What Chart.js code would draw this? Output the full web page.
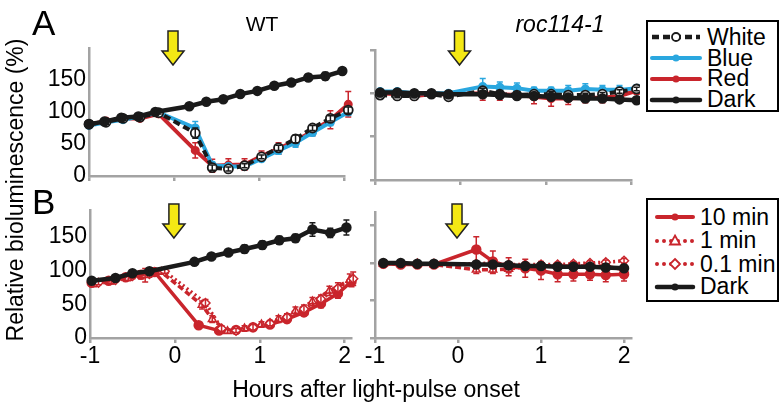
<!DOCTYPE html>
<html>
<head>
<meta charset="utf-8">
<script src="https://cdn.jsdelivr.net/npm/chart.js@4.4.1/dist/chart.umd.min.js"></script>
<style>
  body { margin: 0; width: 780px; height: 406px; background: #fff; position: relative; overflow: hidden;
         font-family: 'Liberation Sans', Arial, sans-serif; color: #000; }
  canvas { position: absolute; }
  .txt { position: absolute; white-space: nowrap; line-height: 1; }
</style>
</head>
<body>
<canvas id="aWT" width="330" height="170" style="left:30px;top:20px"></canvas>
<canvas id="aRoc" width="280" height="170" style="left:360px;top:20px"></canvas>
<canvas id="bWT" width="330" height="185" style="left:30px;top:195px"></canvas>
<canvas id="bRoc" width="280" height="185" style="left:360px;top:195px"></canvas>

<div class="txt" style="left:32px;top:5px;font-size:35px">A</div>
<div class="txt" style="left:32px;top:184px;font-size:35px">B</div>
<div class="txt" style="left:262px;top:13px;font-size:21px;transform:translateX(-50%)">WT</div>
<div class="txt" style="left:560px;top:13px;font-size:23px;font-style:italic;transform:translateX(-50%)">roc114-1</div>
<div class="txt" style="left:15px;top:190px;font-size:23px;transform:translate(-50%,-50%) rotate(-90deg)">Relative bioluminescence (%)</div>
<div class="txt" style="left:376px;top:378px;font-size:23px;transform:translateX(-50%)">Hours after light-pulse onset</div>

<svg style="position:absolute;left:646px;top:20px" width="134" height="94" font-family="Liberation Sans, Arial, sans-serif" font-size="23">
  <rect x="1" y="1" width="131" height="90" fill="#fff" stroke="#000" stroke-width="2"/>
  <line x1="6" y1="17" x2="54" y2="17" stroke="#1a1a1a" stroke-width="4.5" stroke-dasharray="7 4"/>
  <circle cx="30" cy="17" r="4" fill="#fff" stroke="#1a1a1a" stroke-width="1.8"/>
  <text x="61" y="25">White</text>
  <line x1="6" y1="38" x2="54" y2="38" stroke="#2aa7df" stroke-width="4" stroke-linecap="round"/>
  <circle cx="30" cy="38" r="3.5" fill="#2aa7df"/>
  <text x="61" y="46">Blue</text>
  <line x1="6" y1="59" x2="54" y2="59" stroke="#c9252c" stroke-width="4" stroke-linecap="round"/>
  <circle cx="30" cy="59" r="3.5" fill="#c9252c"/>
  <text x="61" y="66">Red</text>
  <line x1="6" y1="80" x2="54" y2="80" stroke="#1a1a1a" stroke-width="4.5" stroke-linecap="round"/>
  <circle cx="30" cy="80" r="3.5" fill="#1a1a1a"/>
  <text x="61" y="87">Dark</text>
</svg>

<svg style="position:absolute;left:646px;top:198px" width="134" height="106" font-family="Liberation Sans, Arial, sans-serif" font-size="23">
  <rect x="1" y="1" width="131" height="102" fill="#fff" stroke="#000" stroke-width="2"/>
  <line x1="11" y1="19" x2="47" y2="19" stroke="#c9252c" stroke-width="4" stroke-linecap="round"/>
  <circle cx="29" cy="19" r="3.5" fill="#c9252c"/>
  <text x="54" y="27">10 min</text>
  <line x1="11" y1="43" x2="47" y2="43" stroke="#c9252c" stroke-width="4" stroke-linecap="round" stroke-dasharray="0 7"/>
  <polygon points="29,37.5 34,46.5 24,46.5" fill="#fff" stroke="#c9252c" stroke-width="1.8"/>
  <text x="54" y="50">1 min</text>
  <line x1="11" y1="66" x2="47" y2="66" stroke="#c9252c" stroke-width="4" stroke-linecap="round" stroke-dasharray="0 7"/>
  <polygon points="29,61 34,66 29,71 24,66" fill="#fff" stroke="#c9252c" stroke-width="1.8"/>
  <text x="54" y="74">0.1 min</text>
  <line x1="11" y1="89" x2="47" y2="89" stroke="#1a1a1a" stroke-width="4.5" stroke-linecap="round"/>
  <circle cx="29" cy="89" r="3.5" fill="#1a1a1a"/>
  <text x="54" y="96">Dark</text>
</svg>

<script>
const family = "'Liberation Sans', Arial, sans-serif";
const axisColor = '#a3a3a3';
const black = '#1a1a1a', blue = '#2aa7df', red = '#c9252c';
const xTicks = [-1, 0, 1, 2];
const yTicks = [0, 50, 100, 150];

// A, WT
const darkHoursA = [-1, -0.82, -0.62, -0.42, -0.22, 0.18, 0.38, 0.58, 0.78, 0.98, 1.18, 1.38, 1.58, 1.78, 1.98];
const darkWT_A = [81, 85, 91, 93, 100, 109, 116, 120, 128, 133, 141, 146, 154, 156, 164];
const darkWT_A_err = [4, 4, 3, 3, 3, 4, 3, 3, 3, 3, 4, 4, 5, 6, 5];
const lightHoursA = [-1, -0.8, -0.6, -0.4, -0.18, 0.25, 0.45, 0.64, 0.83, 1.03, 1.23, 1.43, 1.63, 1.84, 2.05];
const whiteWT = [81, 84, 90, 92, 99, 67, 13, 11, 16, 30, 44, 58, 75, 90, 103];
const whiteWT_err = [3, 3, 3, 3, 2, 8, 4, 3, 3, 3, 4, 6, 4, 4, 5];
const blueWT = [79, 84, 88, 93, 99, 75, 17, 15, 15, 27, 40, 52, 68, 84, 100];
const blueWT_err = [4, 3, 3, 3, 2, 10, 5, 4, 4, 4, 6, 7, 5, 5, 5];
const redWT = [80, 86, 90, 90, 97, 40, 16, 17, 18, 31, 43, 55, 70, 88, 112];
const redWT_err = [3, 3, 3, 4, 5, 12, 10, 10, 9, 8, 9, 8, 7, 14, 20];

// A, roc114-1
const hoursRocA = [-0.94, -0.74, -0.54, -0.34, -0.14, 0.26, 0.46, 0.66, 0.86, 1.06, 1.26, 1.46, 1.66, 1.86, 2.06];
const darkRocA = [101, 101, 100, 100, 99, 99, 98, 97, 97, 96, 95, 94, 94, 93, 92];
const darkRocA_err = [2, 2, 2, 2, 2, 2, 2, 2, 2, 2, 2, 2, 2, 2, 2];
const whiteRoc = [98, 97, 97, 99, 96, 103, 99, 98, 99, 99, 98, 98, 99, 102, 105];
const whiteRoc_err = [2, 2, 2, 2, 2, 3, 3, 2, 2, 3, 2, 2, 2, 2, 2];
const blueRoc = [102, 102, 100, 100, 100, 108, 107, 106, 103, 103, 103, 105, 104, 104, 106];
const blueRoc_err = [3, 3, 3, 3, 3, 9, 6, 6, 4, 4, 6, 6, 5, 5, 4];
const redRoc = [100, 99, 97, 99, 99, 100, 99, 98, 96, 94, 94, 95, 95, 97, 103];
const redRoc_err = [3, 3, 4, 3, 3, 8, 7, 4, 8, 9, 7, 6, 6, 6, 4];

// B, WT
const darkHoursB = [-0.98, -0.7, -0.5, -0.3, 0.23, 0.43, 0.63, 0.82, 1.03, 1.23, 1.42, 1.62, 1.83, 2.02];
const darkWT_B = [85, 89, 96, 99, 113, 121, 127, 132, 138, 145, 148, 161, 156, 164];
const darkWT_B_err = [4, 3, 4, 4, 4, 4, 3, 6, 6, 6, 6, 10, 7, 11];
const tenMinHours = [-0.98, -0.78, -0.58, -0.4, -0.24, 0.28, 0.52, 0.72, 0.92, 1.12, 1.32, 1.52, 1.72, 1.92, 2.08];
const tenMinWT = [82, 85, 90, 94, 98, 19, 11, 12, 16, 20, 28, 38, 51, 66, 84];
const tenMinWT_err = [3, 3, 4, 6, 3, 3, 3, 3, 4, 4, 5, 5, 6, 7, 8];
const oneMinHours = [-0.95, -0.75, -0.55, -0.35, -0.16, 0.32, 0.44, 0.62, 0.82, 1.02, 1.22, 1.42, 1.62, 1.82, 2.06];
const oneMinWT = [80, 84, 89, 93, 98, 49, 28, 10, 14, 20, 28, 40, 54, 70, 86];
const oneMinWT_err = [4, 4, 4, 10, 3, 6, 5, 3, 4, 4, 5, 6, 6, 7, 9];
const tenthMinHours = [-0.9, -0.7, -0.5, -0.3, -0.12, 0.36, 0.55, 0.72, 0.92, 1.12, 1.32, 1.52, 1.72, 1.92, 2.1];
const tenthMinWT = [82, 86, 92, 95, 99, 52, 14, 11, 16, 22, 31, 43, 58, 74, 88];
const tenthMinWT_err = [3, 3, 4, 5, 3, 5, 4, 3, 4, 4, 5, 6, 6, 8, 10];

// B, roc114-1
const hoursRocB = [-0.9, -0.69, -0.49, -0.29, 0.22, 0.42, 0.61, 0.81, 1.0, 1.2, 1.39, 1.59, 1.78, 2.0];
const darkRocB = [100, 100, 99, 99, 98, 98, 97, 96, 96, 95, 95, 95, 94, 93];
const darkRocB_err = [2, 2, 2, 2, 2, 2, 2, 2, 2, 2, 2, 2, 2, 2];
const tenMinRoc = [99, 98, 98, 98, 118, 102, 95, 93, 90, 85, 85, 85, 84, 85];
const tenMinRoc_err = [3, 3, 3, 3, 17, 14, 12, 12, 12, 10, 9, 8, 9, 9];
const oneMinRoc = [99, 99, 99, 98, 91, 91, 92, 95, 96, 96, 96, 96, 96, 91];
const oneMinRoc_err = [3, 3, 3, 3, 5, 5, 5, 4, 4, 3, 3, 3, 3, 3];
const tenthMinRoc = [99, 99, 99, 99, 99, 100, 98, 98, 98, 98, 99, 100, 101, 103];
const tenthMinRoc_err = [3, 3, 3, 3, 3, 3, 3, 3, 3, 3, 3, 3, 3, 3];

// error bars drawn right after each line
const errorBars = {
  id: 'errorBars',
  afterDatasetDraw(chart, args) {
    const ds = chart.data.datasets[args.index];
    if (!ds.errors) return;
    const ctx = chart.ctx, y = chart.scales.y;
    ctx.save();
    ctx.strokeStyle = ds.borderColor;
    ctx.lineWidth = 1.5;
    args.meta.data.forEach((pt, i) => {
      const v = ds.data[i].y, e = ds.errors[i];
      const top = y.getPixelForValue(v + e), bot = y.getPixelForValue(v - e);
      ctx.beginPath();
      ctx.moveTo(pt.x, top); ctx.lineTo(pt.x, bot);
      ctx.moveTo(pt.x - 3, top); ctx.lineTo(pt.x + 3, top);
      ctx.moveTo(pt.x - 3, bot); ctx.lineTo(pt.x + 3, bot);
      ctx.stroke();
    });
    ctx.restore();
  }
};

// yellow arrow at light-pulse onset (x = 0)
const pulseArrow = {
  id: 'pulseArrow',
  afterDraw(chart, args, opts) {
    const x = chart.scales.x.getPixelForValue(0) - 1, t = opts.top, ctx = chart.ctx;
    ctx.save();
    ctx.beginPath();
    ctx.moveTo(x - 5, t); ctx.lineTo(x + 5, t); ctx.lineTo(x + 5, t + 20);
    ctx.lineTo(x + 11, t + 20); ctx.lineTo(x, t + 34); ctx.lineTo(x - 11, t + 20);
    ctx.lineTo(x - 5, t + 20); ctx.closePath();
    ctx.fillStyle = '#f4e814';
    ctx.fill();
    ctx.strokeStyle = '#222';
    ctx.lineWidth = 1.5;
    ctx.stroke();
    ctx.restore();
  }
};

function series(label, hours, vals, errs, style) {
  return Object.assign({
    label: label,
    data: hours.map((h, i) => ({ x: h, y: vals[i] })),
    errors: errs,
    tension: 0,
    clip: false
  }, style);
}

const darkStyle = { borderColor: black, backgroundColor: black, borderWidth: 4.5, pointRadius: 3 };
const whiteStyle = { borderColor: black, backgroundColor: '#fff', borderWidth: 4, borderDash: [7, 4],
                     pointRadius: 4.5, pointBorderWidth: 1.8, pointBorderColor: black };
const blueStyle = { borderColor: blue, backgroundColor: blue, borderWidth: 4, pointRadius: 2.5 };
const redStyle = { borderColor: red, backgroundColor: red, borderWidth: 4, pointRadius: 2.5 };
const tenMinStyle = { borderColor: red, backgroundColor: red, borderWidth: 3.5, pointRadius: 3.5 };
const oneMinStyle = { borderColor: red, backgroundColor: '#fff', borderWidth: 3.5, borderDash: [6, 3],
                      pointStyle: 'triangle', pointRadius: 4.5, pointBorderWidth: 1.5 };
const tenthMinStyle = { borderColor: red, backgroundColor: '#fff', borderWidth: 3.5, borderDash: [2, 3],
                        pointStyle: 'rectRot', pointRadius: 4.5, pointBorderWidth: 1.5 };

function panel(id, cfg) {
  new Chart(document.getElementById(id), {
    type: 'line',
    data: { datasets: cfg.datasets },
    options: {
      responsive: false,
      animation: false,
      events: [],
      layout: { padding: cfg.pad },
      plugins: { legend: { display: false }, tooltip: { enabled: false }, pulseArrow: { top: cfg.arrowTop } },
      scales: {
        x: {
          type: 'linear', min: -1, max: cfg.xMax,
          afterBuildTicks: s => { s.ticks = xTicks.map(v => ({ value: v })); },
          ticks: { display: cfg.xLabels, color: '#000', font: { family: family, size: 23 }, padding: 0, maxRotation: 0 },
          grid: { drawOnChartArea: false, tickLength: 5, color: axisColor, lineWidth: 2.5 },
          border: { color: axisColor, width: 2.5 },
          afterFit: s => { s.height = cfg.xHeight; s.paddingLeft = 0; s.paddingRight = 0; }
        },
        y: {
          min: 0, max: cfg.yMax,
          afterBuildTicks: s => { s.ticks = yTicks.map(v => ({ value: v })); },
          ticks: { display: cfg.yLabels, color: '#000', font: { family: family, size: 23 }, padding: 3 },
          grid: { drawOnChartArea: false, drawTicks: !cfg.yLabels, tickLength: 5, color: axisColor, lineWidth: 2.5 },
          border: { color: axisColor, width: 2.5 },
          afterFit: s => { s.width = cfg.yWidth; s.paddingTop = 0; s.paddingBottom = 0; }
        }
      }
    },
    plugins: [errorBars, pulseArrow]
  });
}

panel('aWT', {
  pad: { left: 0, top: 28, right: 16, bottom: 0 }, yWidth: 59, xHeight: 14, xMax: 2, yMax: 200,
  xLabels: false, yLabels: true, arrowTop: 11,
  datasets: [
    series('Dark', darkHoursA, darkWT_A, darkWT_A_err, darkStyle),
    series('White', lightHoursA, whiteWT, whiteWT_err, whiteStyle),
    series('Blue', lightHoursA, blueWT, blueWT_err, blueStyle),
    series('Red', lightHoursA, redWT, redWT_err, redStyle)
  ]
});

panel('aRoc', {
  pad: { left: 0, top: 30, right: 7, bottom: 0 }, yWidth: 15, xHeight: 10, xMax: 2, yMax: 150,
  xLabels: false, yLabels: false, arrowTop: 11,
  datasets: [
    series('Dark', hoursRocA, darkRocA, darkRocA_err, darkStyle),
    series('White', hoursRocA, whiteRoc, whiteRoc_err, whiteStyle),
    series('Blue', hoursRocA, blueRoc, blueRoc_err, blueStyle),
    series('Red', hoursRocA, redRoc, redRoc_err, redStyle)
  ]
});

panel('bWT', {
  pad: { left: 0, top: 15, right: 8, bottom: 0 }, yWidth: 60, xHeight: 42, xMax: 2.08, yMax: 190,
  xLabels: true, yLabels: true, arrowTop: 9,
  datasets: [
    series('Dark', darkHoursB, darkWT_B, darkWT_B_err, darkStyle),
    series('0.1 min', tenthMinHours, tenthMinWT, tenthMinWT_err, tenthMinStyle),
    series('1 min', oneMinHours, oneMinWT, oneMinWT_err, oneMinStyle),
    series('10 min', tenMinHours, tenMinWT, tenMinWT_err, tenMinStyle)
  ]
});

panel('bRoc', {
  pad: { left: 0, top: 17, right: 3, bottom: 0 }, yWidth: 15, xHeight: 42, xMax: 2.09, yMax: 168,
  xLabels: true, yLabels: false, arrowTop: 9,
  datasets: [
    series('Dark', hoursRocB, darkRocB, darkRocB_err, darkStyle),
    series('0.1 min', hoursRocB, tenthMinRoc, tenthMinRoc_err, tenthMinStyle),
    series('1 min', hoursRocB, oneMinRoc, oneMinRoc_err, oneMinStyle),
    series('10 min', hoursRocB, tenMinRoc, tenMinRoc_err, tenMinStyle)
  ]
});
</script>
</body>
</html>
